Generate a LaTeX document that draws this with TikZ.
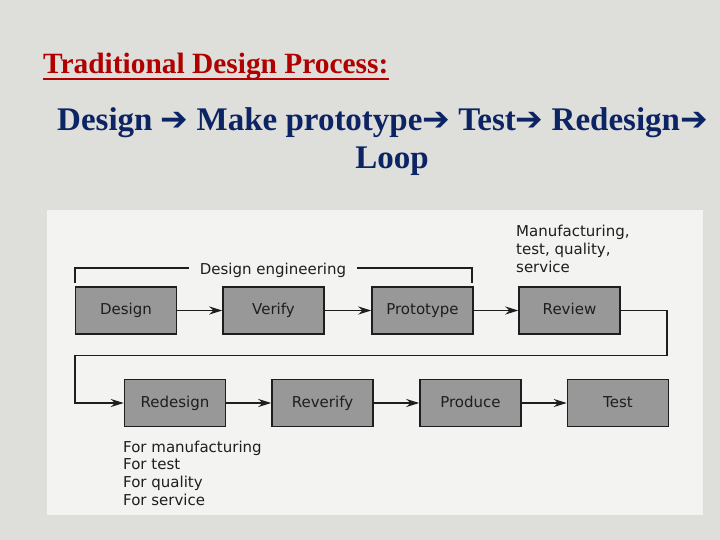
\documentclass[tikz,border=0pt]{standalone}
\usepackage{fontspec}
\setmainfont{Liberation Serif}
\newfontfamily\dv{DejaVu Sans}
\usetikzlibrary{arrows.meta}
\definecolor{bgc}{HTML}{DEDEDA}
\definecolor{scanc}{HTML}{F3F3F1}
\definecolor{boxc}{HTML}{989898}
\definecolor{inkc}{HTML}{1E1E1E}
\definecolor{titlec}{HTML}{B00000}
\definecolor{navyc}{HTML}{0C2463}
\newcommand{\ar}{{\dv\char"2794}}
\tikzset{
  procbox/.style={draw=inkc, line width=1.5pt, fill=boxc, minimum width=101pt, minimum height=47pt,
    inner sep=0pt, text height=11pt, text depth=3pt, font=\dv\fontsize{15}{17}\selectfont, text=inkc},
  flow/.style={draw=inkc, line width=1.8pt, -{Stealth[length=13pt,width=8pt]}},
  brk/.style={draw=inkc, line width=1.5pt},
  lbl/.style={font=\dv\fontsize{15}{17.6}\selectfont, text=inkc, inner sep=0pt, align=left}
}
\begin{document}
\begin{tikzpicture}[x=1pt,y=-1pt]
\useasboundingbox (0,0) rectangle (720,540);
\fill[bgc] (0,0) rectangle (720,540);
\fill[scanc] (47,210) rectangle (703,515);

% title
\node[anchor=base west, inner sep=0pt, text=titlec, font=\fontsize{29.4}{34}\selectfont\bfseries] (title) at (43,74) {Traditional Design Process:};
\draw[titlec, line width=2.4pt] ([yshift=-5pt]title.base west) -- ([yshift=-5pt]title.base east);

% subtitle
\node[anchor=base west, inner sep=0pt, text=navyc, font=\fontsize{33}{38}\selectfont\bfseries] (sub1) at (57,131)
  {Design \ar{} Make prototype\ar{} Test\ar{} Redesign\ar};
\node[anchor=base, inner sep=0pt, text=navyc, font=\fontsize{33}{38}\selectfont\bfseries] (sub2) at (392,169) {Loop};

% row 1
\node[procbox] (design) at (126,310.5) {Design};
\node[procbox] (verify) at (273.5,310.5) {Verify};
\node[procbox] (proto) at (422.5,310.5) {Prototype};
\node[procbox] (review) at (569.5,310.5) {Review};

% row 2
\node[procbox] (redesign) at (175,403) {Redesign};
\node[procbox] (reverify) at (322.5,403) {Reverify};
\node[procbox] (produce) at (470.5,403) {Produce};
\node[procbox] (test) at (618,403) {Test};

\draw[flow] (design) -- (verify);
\draw[flow] (verify) -- (proto);
\draw[flow] (proto) -- (review);
\draw[flow] (redesign) -- (reverify);
\draw[flow] (reverify) -- (produce);
\draw[flow] (produce) -- (test);

\coordinate (c1) at (667,310.5);
\coordinate (c2) at (667,355.5);
\coordinate (c3) at (75,355.5);
\coordinate (c4) at (75,403);
\draw[flow] (review.east) -- (c1) -- (c2) -- (c3) -- (c4) -- (redesign.west);

% bracket
\node[lbl, inner xsep=11pt, anchor=base] (deng) at (273,274) {Design engineering};
\coordinate (bl1) at (75,283);
\coordinate (bl2) at (75,268);
\coordinate (br1) at (472,283);
\coordinate (br2) at (472,268);
\draw[brk] (bl1) -- (bl2) -- (bl2 -| deng.west);
\draw[brk] (br2 -| deng.east) -- (br2) -- (br1);

% labels (base anchor = baseline of the last line)
\node[lbl, anchor=base west] (mfg) at (516,272) {Manufacturing,\\test, quality,\\service};
\node[lbl, anchor=base west] (fors) at (123,505) {For manufacturing\\For test\\For quality\\For service};
\end{tikzpicture}
\end{document}
